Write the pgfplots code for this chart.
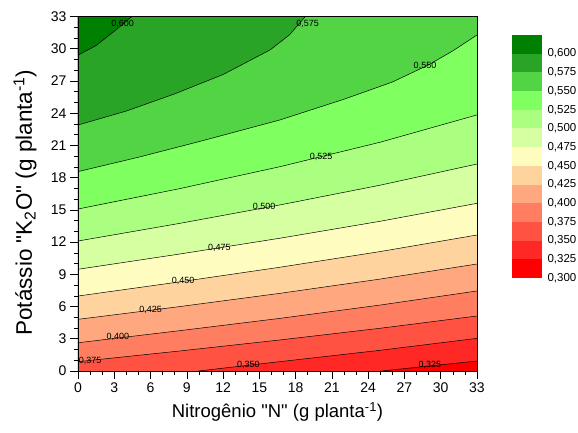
\documentclass[border=0pt]{standalone}
\usepackage{pgfplots}
\pgfplotsset{compat=1.18}
\usepackage{fontspec}
\setmainfont{Liberation Sans}[Ligatures=TeXOff]
\definecolor{c01}{RGB}{255,0,0}
\definecolor{c02}{RGB}{255,40,36}
\definecolor{c03}{RGB}{255,82,66}
\definecolor{c04}{RGB}{255,125,96}
\definecolor{c05}{RGB}{255,168,128}
\definecolor{c06}{RGB}{255,211,158}
\definecolor{c07}{RGB}{255,252,192}
\definecolor{c08}{RGB}{214,255,162}
\definecolor{c09}{RGB}{170,255,128}
\definecolor{c10}{RGB}{128,255,96}
\definecolor{c11}{RGB}{82,212,68}
\definecolor{c12}{RGB}{42,164,38}
\definecolor{c13}{RGB}{0,128,0}
\begin{document}
\begin{tikzpicture}
\useasboundingbox (-78pt,-61pt) rectangle (500pt,371pt);
\begin{axis}[
  at={(0pt,0pt)}, anchor=south west,
  scale only axis, width=399pt, height=354.5pt,
  xmin=0, xmax=33, ymin=0, ymax=33,
  xtick={0,3,...,33}, ytick={0,3,...,33},
  minor x tick num=2, minor y tick num=2,
  tick align=outside, xtick pos=bottom, ytick pos=left,
  major tick length=8pt, minor tick length=4pt,
  tick style={black, line width=0.6pt},
  axis line style={black, line width=0.7pt},
  ticklabel style={font=\fontsize{14}{16}\selectfont},
  /pgf/number format/assume math mode=true,
  axis on top,
  xlabel={Nitrogênio "N" (g planta\textsuperscript{-1})},
  ylabel={Potássio "K\textsubscript{2}O" (g planta\textsuperscript{-1})},
  xlabel style={at={(axis description cs:0.5,0)}, anchor=center, yshift=-41pt, font=\fontsize{18.5}{20}\selectfont},
  ylabel style={at={([xshift=-53pt]axis description cs:0,0.475)}, anchor=center, font=\fontsize{22.5}{24}\selectfont},
]
% filled bands (region above each contour line, painted in order)
\addplot[fill=c01, draw=none] coordinates {(0,0)(33,0)(33,33)(0,33)} -- cycle;
\addplot[fill=c02, draw=none] coordinates {(25.1,0)(29,0.46)(33,0.93)(33,33)(0,33)(0,0)} -- cycle;
\addplot[fill=c03, draw=none] coordinates {(9.95,0)(16.7,0.87)(25,1.93)(33,3.04)(33,33)(0,33)(0,0)} -- cycle;
\addplot[fill=c04, draw=none] coordinates {(0,0.87)(8.3,1.85)(16.7,2.89)(25,3.98)(33,5.12)(33,33)(0,33)} -- cycle;
\addplot[fill=c05, draw=none] coordinates {(0,2.63)(8.3,3.74)(16.7,4.90)(25,6.14)(33,7.45)(33,33)(0,33)} -- cycle;
\addplot[fill=c06, draw=none] coordinates {(0,4.81)(8.3,5.98)(16.7,7.23)(25,8.56)(33,9.96)(33,33)(0,33)} -- cycle;
\addplot[fill=c07, draw=none] coordinates {(0,6.98)(8.3,8.28)(16.7,9.66)(25,11.12)(33,12.66)(33,33)(0,33)} -- cycle;
\addplot[fill=c08, draw=none] coordinates {(0,9.47)(8.3,10.87)(16.7,12.36)(25,13.94)(33,15.61)(33,33)(0,33)} -- cycle;
\addplot[fill=c09, draw=none] coordinates {(0,12.10)(8.3,13.72)(16.7,15.46)(25,17.30)(33,19.27)(33,33)(0,33)} -- cycle;
\addplot[fill=c10, draw=none] coordinates {(0,15.08)(8.3,16.95)(16.7,19.02)(25,21.30)(33,23.84)(33,33)(0,33)} -- cycle;
\addplot[fill=c11, draw=none] coordinates {(0,18.56)(5,19.9)(10,21.35)(16.7,23.37)(22,25.3)(26,26.9)(29,28.5)(31,29.8)(33,31.28)(33,33)(0,33)} -- cycle;
\addplot[fill=c12, draw=none] coordinates {(0,22.9)(4,24.2)(8,25.8)(12,27.6)(15.9,29.9)(17.5,31.3)(18.8,33)(0,33)} -- cycle;
\addplot[fill=c13, draw=none] coordinates {(0,29.4)(1.5,30.3)(3.3,31.9)(4.45,33)(0,33)} -- cycle;
% contour lines
\addplot[black, line width=0.5pt] coordinates {(25.1,0)(29,0.46)(33,0.93)};
\addplot[black, line width=0.5pt] coordinates {(9.95,0)(16.7,0.87)(25,1.93)(33,3.04)};
\addplot[black, line width=0.5pt] coordinates {(0,0.87)(8.3,1.85)(16.7,2.89)(25,3.98)(33,5.12)};
\addplot[black, line width=0.5pt] coordinates {(0,2.63)(8.3,3.74)(16.7,4.90)(25,6.14)(33,7.45)};
\addplot[black, line width=0.5pt] coordinates {(0,4.81)(8.3,5.98)(16.7,7.23)(25,8.56)(33,9.96)};
\addplot[black, line width=0.5pt] coordinates {(0,6.98)(8.3,8.28)(16.7,9.66)(25,11.12)(33,12.66)};
\addplot[black, line width=0.5pt] coordinates {(0,9.47)(8.3,10.87)(16.7,12.36)(25,13.94)(33,15.61)};
\addplot[black, line width=0.5pt] coordinates {(0,12.10)(8.3,13.72)(16.7,15.46)(25,17.30)(33,19.27)};
\addplot[black, line width=0.5pt] coordinates {(0,15.08)(8.3,16.95)(16.7,19.02)(25,21.30)(33,23.84)};
\addplot[black, line width=0.5pt] coordinates {(0,18.56)(5,19.9)(10,21.35)(16.7,23.37)(22,25.3)(26,26.9)(29,28.5)(31,29.8)(33,31.28)};
\addplot[black, line width=0.5pt] coordinates {(0,22.9)(4,24.2)(8,25.8)(12,27.6)(15.9,29.9)(17.5,31.3)(18.8,33)};
\addplot[black, line width=0.5pt] coordinates {(0,29.4)(1.5,30.3)(3.3,31.9)(4.45,33)};
% contour labels
\tikzset{cl/.style={font=\fontsize{9}{10}\selectfont, inner sep=0pt}}
\node[cl] at (axis cs:3.7,32.3) {0,600};
\node[cl] at (axis cs:19.0,32.3) {0,575};
\node[cl] at (axis cs:28.7,28.4) {0,550};
\node[cl] at (axis cs:20.1,19.9) {0,525};
\node[cl] at (axis cs:15.4,15.3) {0,500};
\node[cl] at (axis cs:11.7,11.5) {0,475};
\node[cl] at (axis cs:8.7,8.4) {0,450};
\node[cl] at (axis cs:6.0,5.7) {0,425};
\node[cl] at (axis cs:3.3,3.15) {0,400};
\node[cl] at (axis cs:1.0,0.95) {0,375};
\node[cl] at (axis cs:14.1,0.6) {0,350};
\node[cl] at (axis cs:29.1,0.6) {0,325};
\end{axis}
% colour scale
\begin{axis}[
  at={(434pt,93pt)}, anchor=south west,
  scale only axis, width=30pt, height=243pt,
  xmin=0, xmax=1, ymin=0.3, ymax=0.625,
  hide x axis,
  axis y line*=right,
  y axis line style={draw=none},
  ytick={0.300,0.325,0.350,0.375,0.400,0.425,0.450,0.475,0.500,0.525,0.550,0.575,0.600},
  major tick length=0pt,
  yticklabel style={font=\fontsize{11.5}{13}\selectfont, xshift=2pt},
  /pgf/number format/assume math mode=true,
  yticklabel={\pgfmathprintnumber[fixed, fixed zerofill, precision=3, use comma]{\tick}},
]
\addplot[fill=c01, draw=none] coordinates {(0,0.300)(1,0.300)(1,0.325)(0,0.325)} -- cycle;
\addplot[fill=c02, draw=none] coordinates {(0,0.325)(1,0.325)(1,0.350)(0,0.350)} -- cycle;
\addplot[fill=c03, draw=none] coordinates {(0,0.350)(1,0.350)(1,0.375)(0,0.375)} -- cycle;
\addplot[fill=c04, draw=none] coordinates {(0,0.375)(1,0.375)(1,0.400)(0,0.400)} -- cycle;
\addplot[fill=c05, draw=none] coordinates {(0,0.400)(1,0.400)(1,0.425)(0,0.425)} -- cycle;
\addplot[fill=c06, draw=none] coordinates {(0,0.425)(1,0.425)(1,0.450)(0,0.450)} -- cycle;
\addplot[fill=c07, draw=none] coordinates {(0,0.450)(1,0.450)(1,0.475)(0,0.475)} -- cycle;
\addplot[fill=c08, draw=none] coordinates {(0,0.475)(1,0.475)(1,0.500)(0,0.500)} -- cycle;
\addplot[fill=c09, draw=none] coordinates {(0,0.500)(1,0.500)(1,0.525)(0,0.525)} -- cycle;
\addplot[fill=c10, draw=none] coordinates {(0,0.525)(1,0.525)(1,0.550)(0,0.550)} -- cycle;
\addplot[fill=c11, draw=none] coordinates {(0,0.550)(1,0.550)(1,0.575)(0,0.575)} -- cycle;
\addplot[fill=c12, draw=none] coordinates {(0,0.575)(1,0.575)(1,0.600)(0,0.600)} -- cycle;
\addplot[fill=c13, draw=none] coordinates {(0,0.600)(1,0.600)(1,0.625)(0,0.625)} -- cycle;
\end{axis}
\end{tikzpicture}
\end{document}
